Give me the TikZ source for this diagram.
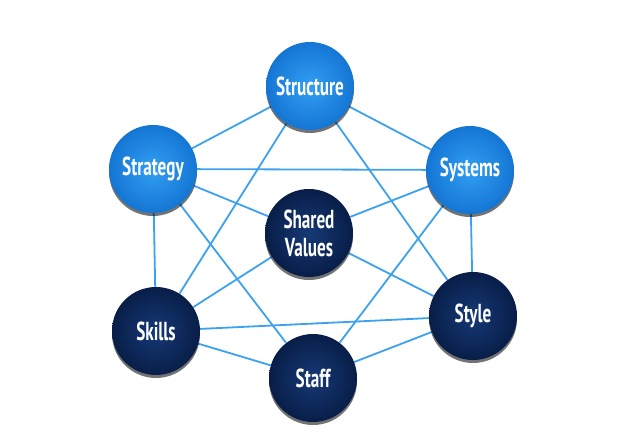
\documentclass[tikz,border=0pt]{standalone}
\usepackage{fontspec}
\setmainfont[FakeStretch=0.66]{PT Sans}
\usetikzlibrary{shadows,backgrounds}
\definecolor{ltblueIn}{RGB}{50,158,242}
\definecolor{ltblueOut}{RGB}{20,118,212}
\definecolor{navyIn}{RGB}{22,57,118}
\definecolor{navyOut}{RGB}{8,30,72}
\definecolor{linkblue}{RGB}{60,162,240}
\begin{document}
\begin{tikzpicture}[x=1pt,y=1pt,
  ball/.style={circle, minimum size=88pt, inner sep=0pt, text=white,
    font=\bfseries\fontsize{26}{28}\selectfont, align=center,
    drop shadow={shadow xshift=0pt, shadow yshift=-3pt, opacity=0.55, fill=black}},
  lightball/.style={ball, shading=radial, inner color=ltblueIn, outer color=ltblueOut},
  darkball/.style={ball, shading=radial, inner color=navyIn, outer color=navyOut},
  link/.style={draw=linkblue, line width=1.8pt}]
\useasboundingbox (0,0) rectangle (618,440);
\node[lightball] (structure) at (310,354) {Structure};
\node[lightball] (strategy) at (153,271) {Strategy};
\node[lightball] (systems) at (470,270) {Systems};
\node[darkball] (shared) at (309,207) {Shared\\Values};
\node[darkball] (skills) at (156,109) {Skills};
\node[darkball] (style) at (473,124) {Style};
\node[darkball] (staff) at (313,62) {Staff};
\begin{pgfonlayer}{background}
\draw[link] (structure) -- (systems);
\draw[link] (systems) -- (style);
\draw[link] (style) -- (staff);
\draw[link] (staff) -- (skills);
\draw[link] (skills) -- (strategy);
\draw[link] (strategy) -- (structure);
\draw[link] (strategy) -- (systems);
\draw[link] (skills) -- (style);
\draw[link] (structure) -- (skills);
\draw[link] (structure) -- (style);
\draw[link] (strategy) -- (staff);
\draw[link] (systems) -- (staff);
\draw[link] (shared) -- (strategy);
\draw[link] (shared) -- (systems);
\draw[link] (shared) -- (skills);
\draw[link] (shared) -- (style);
\end{pgfonlayer}
\end{tikzpicture}
\end{document}
